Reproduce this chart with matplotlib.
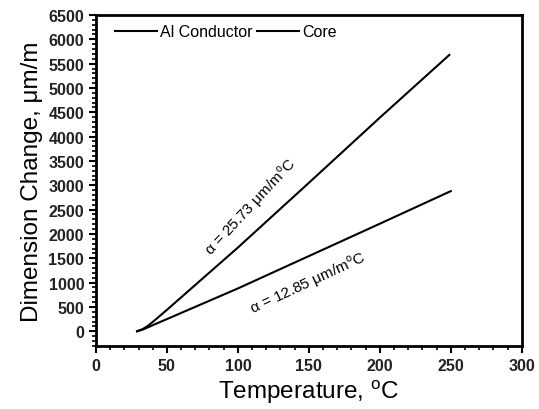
import matplotlib
matplotlib.use("Agg")
import matplotlib.pyplot as plt
from matplotlib.ticker import MultipleLocator

plt.rcParams['font.family'] = ['Liberation Sans', 'DejaVu Sans']
plt.rcParams['mathtext.fontset'] = 'custom'
plt.rcParams['mathtext.rm'] = 'Liberation Sans'

temp = [29, 33, 37, 42, 50, 100, 150, 200, 249]
al_conductor = [0, 45, 120, 240, 440, 1720, 3050, 4390, 5680]
temp_core = [29, 33, 37, 42, 50, 100, 150, 200, 250]
core = [0, 35, 85, 150, 250, 880, 1545, 2210, 2880]

fig = plt.figure(figsize=(5.39, 4.10), dpi=100)
ax = fig.add_axes([0.178, 0.154, 0.790, 0.807])

ax.plot(temp, al_conductor, color='black', lw=1.5, label='Al Conductor')
ax.plot(temp_core, core, color='black', lw=1.5, label='Core')

ax.set_xlim(0, 300)
ax.set_ylim(-300, 6500)
ax.xaxis.set_major_locator(MultipleLocator(50))
ax.xaxis.set_minor_locator(MultipleLocator(10))
ax.yaxis.set_major_locator(MultipleLocator(500))
ax.yaxis.set_minor_locator(MultipleLocator(100))

for s in ax.spines.values():
    s.set_linewidth(2)
ax.tick_params(which='major', direction='out', length=5, width=1.5, labelsize=11.5)
ax.tick_params(which='minor', direction='out', length=3, width=1.2)
for lbl in ax.get_xticklabels() + ax.get_yticklabels():
    lbl.set_fontweight('bold')
    lbl.set_color('#222222')

ax.set_xlabel('Temperature, $^{\\rm o}$C', fontsize=17.5, labelpad=3)
ax.set_ylabel('Dimension Change, \u03bcm/m', fontsize=17.5)

ax.text(109, 2572, '\u03b1 = 25.73 \u03bcm/m$^{\\rm o}$C', rotation=47,
        ha='center', va='center', fontsize=11)
ax.text(149, 1008, '\u03b1 = 12.85 \u03bcm/m$^{\\rm o}$C', rotation=25,
        ha='center', va='center', fontsize=11)

leg = ax.legend(loc='upper left', ncol=2, frameon=False, fontsize=11.5,
                handlelength=2.6, handletextpad=0.2, columnspacing=0.3,
                bbox_to_anchor=(0.015, 1.01), borderaxespad=0.4)

fig.savefig('out.png', dpi=100)
